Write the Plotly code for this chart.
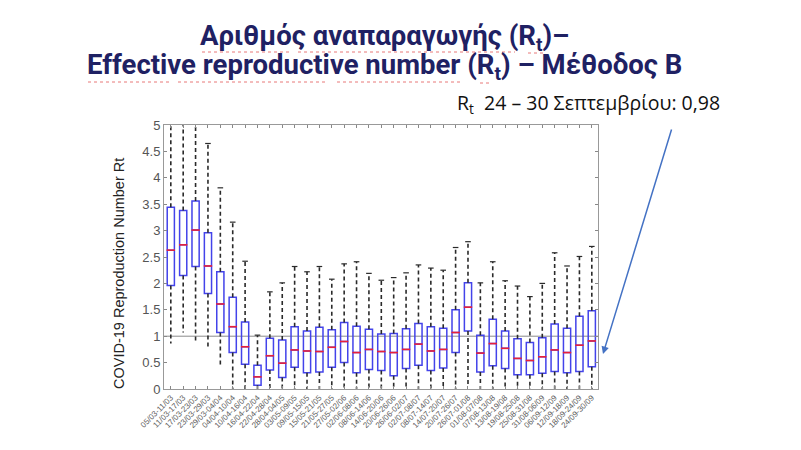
import plotly.graph_objects as go

# weekly windows, Rt estimates (method B)
periods = [
    "05/03-11/03", "11/03-17/03", "17/03-23/03", "23/03-29/03", "29/03-04/04",
    "04/04-10/04", "10/04-16/04", "16/04-22/04", "22/04-28/04", "28/04-04/05",
    "03/05-09/05", "09/05-15/05", "15/05-21/05", "21/05-27/05", "27/05-02/06",
    "02/06-08/06", "08/06-14/06", "14/06-20/06", "20/06-26/06", "26/06-02/07",
    "02/07-08/07", "08/07-14/07", "14/07-20/07", "20/07-26/07", "26/07-01/08",
    "01/08-07/08", "07/08-13/08", "13/08-19/08", "19/08-25/08", "25/08-31/08",
    "31/08-06/09", "06/09-12/09", "12/09-18/09", "18/09-24/09", "24/09-30/09",
]
upper = [5.6, 5.6, 5.6, 4.65, 3.81, 3.16, 2.42, 1.02, 1.84, 2.01,
         2.32, 2.22, 2.32, 2.08, 2.37, 2.41, 2.19, 2.06, 2.11, 2.20,
         2.35, 2.29, 2.25, 2.68, 2.79, 2.01, 2.41, 2.05, 1.95, 1.75,
         2.00, 2.58, 2.33, 2.51, 2.70]
q3 = [3.44, 3.38, 3.56, 2.96, 2.22, 1.74, 1.27, 0.45, 0.96, 0.93,
      1.18, 1.10, 1.17, 1.12, 1.26, 1.19, 1.13, 1.04, 1.05, 1.14,
      1.24, 1.18, 1.15, 1.50, 2.01, 1.02, 1.32, 1.10, 0.95, 0.88,
      0.97, 1.23, 1.15, 1.38, 1.48]
median = [2.63, 2.73, 3.01, 2.33, 1.61, 1.18, 0.80, 0.23, 0.63, 0.49,
          0.74, 0.72, 0.71, 0.79, 0.90, 0.69, 0.75, 0.71, 0.69, 0.75,
          0.85, 0.72, 0.75, 1.07, 1.55, 0.68, 0.86, 0.77, 0.58, 0.54,
          0.61, 0.74, 0.69, 0.83, 0.91]
q1 = [1.96, 2.15, 2.32, 1.81, 1.07, 0.69, 0.47, 0.07, 0.36, 0.22,
      0.41, 0.31, 0.32, 0.41, 0.50, 0.31, 0.37, 0.35, 0.25, 0.39,
      0.45, 0.35, 0.40, 0.69, 1.10, 0.32, 0.44, 0.39, 0.27, 0.27,
      0.30, 0.33, 0.31, 0.33, 0.42]
lower = [0.86, 1.07, 0.90, 0.77, 0.44, 0.0, 0.0, 0.0, 0.0, 0.0,
         0.0, 0.0, 0.0, 0.0, 0.0, 0.0, 0.0, 0.0, 0.0, 0.0,
         0.0, 0.0, 0.0, 0.0, 0.04, 0.0, 0.0, 0.0, 0.0, 0.0,
         0.0, 0.0, 0.0, 0.0, 0.0]

W, H = 801, 450
OFF = 8  # page body margin in the browser
PL, PR, PT, PB = 164, 598, 125, 389  # plot area on screen

def px(x):
    return (x - PL) / (PR - PL)

def py(y):
    return (PB - y) / (PB - PT)

pos = list(range(len(periods)))

# dashed whiskers, drawn as broken line segments
wx, wy = [], []
for i in pos:
    wx += [i, i, None, i, i, None]
    wy += [q3[i], upper[i], None, q1[i], lower[i], None]

fig = go.Figure()
fig.add_trace(go.Scatter(x=wx, y=wy, mode="lines", hoverinfo="skip",
                         line=dict(color="#2a2a2a", width=1.6, dash="4px,3px")))
fig.add_trace(go.Scatter(x=pos, y=upper, mode="markers", hoverinfo="skip",
                         marker=dict(symbol="line-ew", size=4,
                                     line=dict(color="#2a2a2a", width=1.2))))
fig.add_trace(go.Box(x=pos, q1=q1, median=median, q3=q3,
                     lowerfence=q1, upperfence=q3, width=0.58,
                     whiskerwidth=0, fillcolor="rgba(255,255,255,0)",
                     line=dict(color="#4343ea", width=1.5), hoverinfo="skip"))
fig.add_trace(go.Scatter(x=pos, y=median, mode="markers", hoverinfo="skip",
                         marker=dict(symbol="line-ew", size=6,
                                     line=dict(color="#e8203a", width=1.6))))

fig.add_hline(y=1, line=dict(color="#8a8a8a", width=1), layer="below")

fig.update_layout(
    width=W, height=H,
    margin=dict(l=PL - OFF, r=W - PR + OFF, t=PT - OFF, b=H - PB + OFF),
    paper_bgcolor="white", plot_bgcolor="white",
    showlegend=False,
    font=dict(family="Liberation Sans", color="#222222"),
)
fig.update_xaxes(range=[-0.55, 34.5], tickmode="array", tickvals=pos,
                 ticktext=periods, tickangle=-45,
                 tickfont=dict(size=8, color="#606060"),
                 ticks="inside", ticklen=3, tickcolor="#888888",
                 showline=True, linecolor="#999999", mirror="ticks",
                 showgrid=False, zeroline=False, automargin=False)
fig.update_yaxes(range=[0, 5], dtick=0.5, tickfont=dict(size=13, color="#555555"),
                 ticks="inside", ticklen=3, tickcolor="#888888",
                 showline=True, linecolor="#999999", mirror="ticks",
                 showgrid=False, zeroline=False, automargin=False)

fig.add_annotation(x=px(119), y=py(274), xref="paper", yref="paper", showarrow=False,
                   textangle=-90, xanchor="center", yanchor="middle",
                   text="COVID-19 Reproduction Number Rt",
                   font=dict(family="Liberation Sans", size=14.5, color="#222222"))

navy = "#1f2163"
fig.add_annotation(x=px(384), y=py(37), xref="paper", yref="paper", showarrow=False,
                   xanchor="center", yanchor="middle",
                   text="<b>Αριθμός αναπαραγωγής (R<sub>t</sub>)–</b>",
                   font=dict(family="Roboto", size=27.5, color=navy))
fig.add_annotation(x=px(384), y=py(67), xref="paper", yref="paper", showarrow=False,
                   xanchor="center", yanchor="middle",
                   text="<b>Effective reproductive number (R<sub>t</sub>) – Μέθοδος Β</b>",
                   font=dict(family="Roboto", size=27.5, color=navy))
fig.add_annotation(x=px(455), y=py(104), xref="paper", yref="paper", showarrow=False,
                   xanchor="left", yanchor="middle",
                   text="R<sub>t</sub>  24 – 30 Σεπτεμβρίου: 0,98",
                   font=dict(family="Open Sans", size=19.5, color="#111111"))
fig.add_annotation(x=px(603), y=py(354), xref="paper", yref="paper",
                   ax=69, ay=-226, text="", showarrow=True,
                   arrowhead=2, arrowsize=1, arrowwidth=1.5, arrowcolor="#4472c4")

# spell-check marks under the title words (as on the slide)
squiggles = [(202, 290, 52), (298, 515, 52), (528, 543, 53),
             (88, 170, 82), (178, 325, 82), (337, 462, 82), (480, 492, 83)]
for x0, x1, y in squiggles:
    fig.add_shape(type="line", xref="paper", yref="paper",
                  x0=px(x0), x1=px(x1), y0=py(y), y1=py(y),
                  line=dict(color="#e87878", width=1, dash="dot"))

# thin slide edge at the top
fig.add_shape(type="line", xref="paper", yref="paper",
              x0=px(0), x1=px(801), y0=py(1), y1=py(1),
              line=dict(color="#d4d4d4", width=1))

fig.write_html("out.html")
